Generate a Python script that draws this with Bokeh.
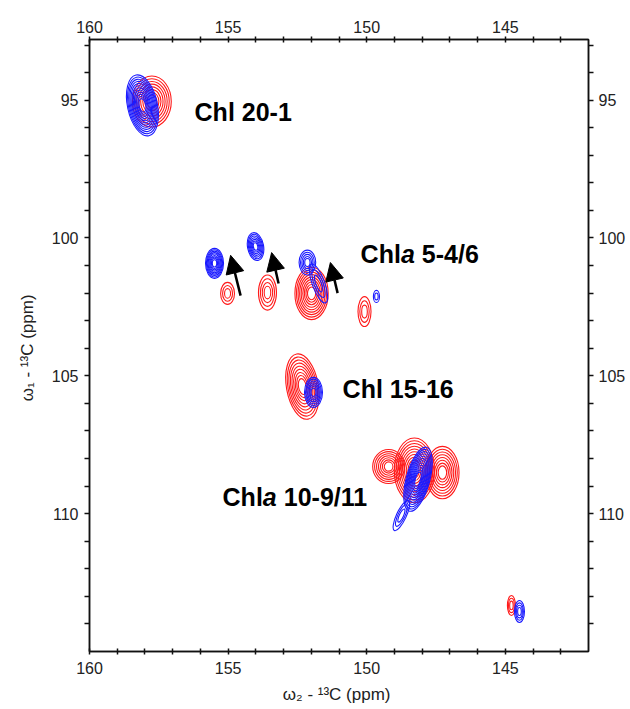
from bokeh.plotting import figure
from bokeh.models import (Range1d, LinearAxis, FixedTicker, ColumnDataSource,
                          Arrow, NormalHead)
from bokeh.core.properties import value
from bokeh.embed import file_html
from bokeh.resources import INLINE

# ---- data (ppm) ----
x_ticks = [160, 155, 150, 145]
x_minor = [159, 158, 157, 156, 154, 153, 152, 151, 149, 148, 147, 146, 144, 143]
y_ticks = [95, 100, 105, 110]
y_minor = [93, 94, 96, 97, 98, 99, 101, 102, 103, 104, 106, 107, 108, 109,
           111, 112, 113, 114]

# red spectrum peaks: centre, outer contour size, tilt (deg), number of contours
red_x = [157.75, 155.02, 153.58, 151.99, 150.08, 152.32, 149.21, 148.28, 147.27, 144.78]
red_y = [95.05, 102.01, 101.98, 102.01, 102.67, 105.39, 108.29, 108.43, 108.51, 113.33]
red_w = [1.40, 0.50, 0.65, 1.20, 0.47, 1.15, 1.15, 1.45, 1.20, 0.29]
red_h = [1.85, 0.80, 1.27, 1.90, 1.09, 2.40, 1.23, 2.35, 1.90, 0.73]
red_a = [0, 0, 0, 0, 0, 10, 0, 0, 0, 0]
red_n = [8, 3, 4, 9, 3, 9, 7, 10, 8, 3]

# blue spectrum peaks
blue_x = [158.09, 155.49, 154.01, 152.14, 151.74, 149.65, 151.92, 148.15, 148.75, 144.49]
blue_y = [95.19, 100.92, 100.31, 100.89, 101.65, 102.12, 105.60, 108.75, 110.07, 113.55]
blue_w = [1.08, 0.65, 0.58, 0.60, 0.45, 0.22, 0.65, 0.85, 0.35, 0.36]
blue_h = [2.25, 1.09, 1.02, 0.90, 1.50, 0.44, 1.09, 2.40, 1.20, 0.80]
blue_a = [12, 0, 10, 0, 20, 0, 0, -15, -25, 0]
blue_n = [12, 9, 7, 5, 3, 2, 7, 12, 3, 4]

# arrows (tail -> tip)
arr_x0 = [154.55, 153.18, 151.05]
arr_y0 = [102.09, 101.65, 102.00]
arr_x1 = [154.91, 153.43, 151.31]
arr_y1 = [100.63, 100.53, 100.89]

# peak annotations
lab_x = [156.21, 150.22, 150.87, 155.20]
lab_y = [95.42, 100.58, 105.48, 109.38]
lab_pre = ["Chl 20-1", "Chl", "Chl 15-16", "Chl"]
lab_it = ["", "a", "", "a"]
lab_post = ["", "5-4/6", "", "10-9/11"]


def contour_source(xs, ys, ws, hs, angs, ns):
    cx, cy, cw, ch, ca = [], [], [], [], []
    for x, y, w, h, a, n in zip(xs, ys, ws, hs, angs, ns):
        for k in range(n):
            s = 1.0 - 0.85 * k / max(n, 1)
            cx.append(x); cy.append(y)
            cw.append(w * s); ch.append(h * s); ca.append(a)
    return ColumnDataSource(dict(x=cx, y=cy, w=cw, h=ch, a=ca))


FONT = "Liberation Sans"

p = figure(x_range=Range1d(160, 142), y_range=Range1d(115, 92.8),
           frame_width=499, frame_height=612,
           min_border_left=89, min_border_right=34,
           min_border_top=39, min_border_bottom=57,
           output_backend="svg", toolbar_location=None,
           x_axis_location=None, y_axis_location=None)
p.xgrid.visible = False
p.ygrid.visible = False
p.outline_line_color = "#111111"
p.outline_line_width = 1.5
p.background_fill_color = "white"
p.border_fill_color = "white"

xt = FixedTicker(ticks=x_ticks, minor_ticks=x_minor)
yt = FixedTicker(ticks=y_ticks, minor_ticks=y_minor)


def style(ax, tin, tout, standoff):
    ax.axis_line_color = "#111111"
    ax.axis_line_width = 1.5
    ax.major_tick_line_color = "#111111"
    ax.minor_tick_line_color = "#111111"
    ax.major_tick_line_width = 1.5
    ax.minor_tick_line_width = 1.5
    ax.major_tick_in = tin
    ax.major_tick_out = tout
    ax.minor_tick_in = tin
    ax.minor_tick_out = tout
    ax.major_label_text_font = FONT
    ax.major_label_text_font_size = "16px"
    ax.major_label_text_color = "#222222"
    ax.major_label_standoff = standoff
    ax.axis_label_text_font = FONT
    ax.axis_label_text_font_size = "17px"
    ax.axis_label_text_font_style = "normal"
    ax.axis_label_text_color = "#222222"


bottom = LinearAxis(ticker=xt, axis_label="ω₂ - ¹³C  (ppm)")
style(bottom, 3, 3, 7)
bottom.axis_label_standoff = 8
top = LinearAxis(ticker=xt)
style(top, 3, 3, 4)
left = LinearAxis(ticker=yt, axis_label="ω₁ - ¹³C  (ppm)")
style(left, 0, 5, 6)
left.axis_label_standoff = 12
right = LinearAxis(ticker=yt)
style(right, 0, 5, 5)
right.major_label_orientation = "horizontal"
left.major_label_orientation = "horizontal"
p.add_layout(bottom, "below")
p.add_layout(top, "above")
p.add_layout(left, "left")
p.add_layout(right, "right")

rsrc = contour_source(red_x, red_y, red_w, red_h, red_a, red_n)
bsrc = contour_source(blue_x, blue_y, blue_w, blue_h, blue_a, blue_n)
p.ellipse(x="x", y="y", width="w", height="h", angle="a", angle_units="deg",
          source=rsrc, fill_color=None, line_color="#ff1a1a", line_width=1.1)
p.ellipse(x="x", y="y", width="w", height="h", angle="a", angle_units="deg",
          source=bsrc, fill_color=None, line_color="#1a1aff", line_width=1.1)

asrc = ColumnDataSource(dict(x0=arr_x0, y0=arr_y0, x1=arr_x1, y1=arr_y1))
p.add_layout(Arrow(x_start="x0", y_start="y0", x_end="x1", y_end="y1", source=asrc,
                   line_color="black", line_width=2.5,
                   end=NormalHead(size=18, fill_color="black", line_color="black")))

off_it = [40.3 if t else 0 for t in lab_it]
off_post = [61.2 if t else 0 for t in lab_it]
lsrc = ColumnDataSource(dict(x=lab_x, y=lab_y, pre=lab_pre, it=lab_it, post=lab_post,
                             oi=off_it, op=off_post))
common = dict(x="x", y="y", source=lsrc, text_font=value(FONT), text_font_size="25px",
              text_baseline="alphabetic", text_align="left", text_color="black")
p.text(text="pre", text_font_style="bold", **common)
p.text(text="it", text_font_style="bold italic", x_offset="oi", **common)
p.text(text="post", text_font_style="bold", x_offset="op", **common)

open("out.html", "w").write(file_html(p, INLINE))
